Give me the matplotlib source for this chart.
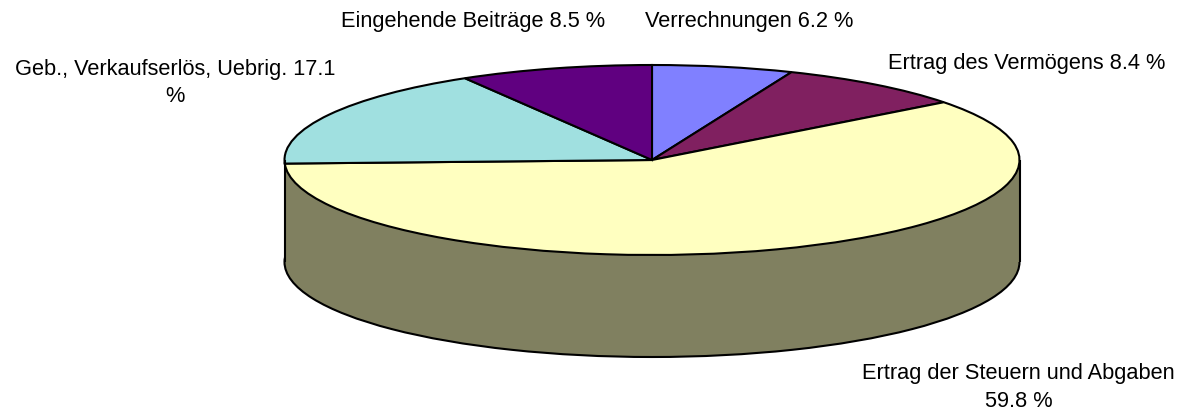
import numpy as np
import matplotlib
matplotlib.use('Agg')
import matplotlib.pyplot as plt

labels = ['Verrechnungen 6.2 %', 'Ertrag des Vermögens 8.4 %',
          'Ertrag der Steuern und Abgaben\n59.8 %',
          'Geb., Verkaufserlös, Uebrig. 17.1\n%', 'Eingehende Beiträge 8.5 %']
values = [6.2, 8.4, 59.8, 17.1, 8.5]
colors = ['#8080ff', '#802060', '#ffffc0', '#a0e0e0', '#600080']
side_color = '#808060'

plt.rcParams['font.family'] = ['Liberation Sans', 'DejaVu Sans']

W, H = 1180, 412
cx, cy = 652, 160   # pie centre in pixels
rx, ry = 367.5, 95  # radii in pixels
depth = 102 / ry
lw = 1.5

fig = plt.figure(figsize=(W / 100, H / 100), dpi=100)
ax = fig.add_axes([0, 0, 1, 1])

# side wall first, the flat top goes over it
ax.pie([1], colors=[side_color], center=(0, -depth), radius=1, startangle=0,
       wedgeprops=dict(edgecolor='black', linewidth=lw))
x = np.linspace(-1, 1, 2)
ax.fill_between(x, -depth, 0, color=side_color, linewidth=0)
ax.plot([-1, -1], [-depth, 0], color='black', lw=lw, solid_capstyle='butt')
ax.plot([1, 1], [-depth, 0], color='black', lw=lw, solid_capstyle='butt')

ax.pie(values, colors=colors, startangle=90, counterclock=False,
       wedgeprops=dict(edgecolor='black', linewidth=lw))

ax.set_aspect('auto')
ax.set_xlim(-cx / rx, (W - cx) / rx)
ax.set_ylim((cy - H) / ry, cy / ry)
ax.axis('off')

# label spots, pixels from top left
spots = [(749, 21), (1026.5, 63), (1018.5, 387.5), (175, 83), (473.5, 22)]
for lab, (px, py) in zip(labels, spots):
    fig.text(px / W, 1 - py / H, lab, ha='center', va='center', fontsize=15.65,
             color='black', linespacing=1.42)

fig.savefig('out.png', dpi=100)
